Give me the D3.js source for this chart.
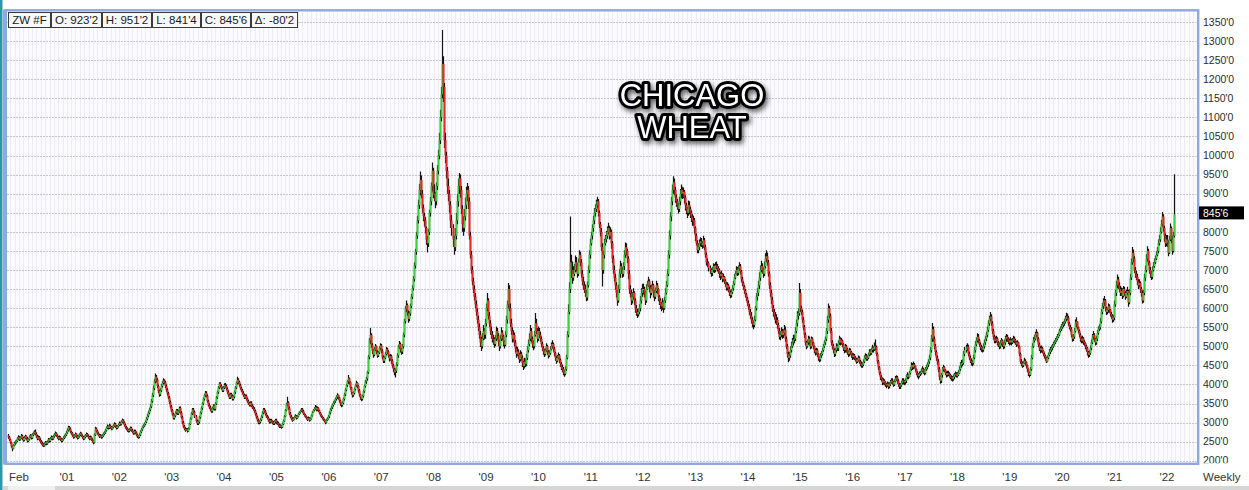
<!DOCTYPE html>
<html>
<head>
<meta charset="utf-8">
<script src="https://cdn.jsdelivr.net/npm/d3@7"></script>
<style>
  html, body { margin: 0; padding: 0; background: #ffffff; }
  svg { display: block; font-family: "Liberation Sans", Arial, sans-serif; }
</style>
</head>
<body>
<svg id="chart" width="1249" height="490"></svg>
<script>
// ---------------- DATA ----------------
const legendLabels = ["ZW #F", "O: 923'2", "H: 951'2", "L: 841'4", "C: 845'6", "\u0394: -80'2"];
const titleLines = ["CHICAGO", "WHEAT"];
const periodLabel = "Weekly";
const lastPriceLabel = "845'6";

const yTicks = [200,250,300,350,400,450,500,550,600,650,700,750,800,850,900,950,1000,1050,1100,1150,1200,1250,1300,1350];

const xTickDates = ["2000-02-01","2001-01-01","2002-01-01","2003-01-01","2004-01-01","2005-01-01","2006-01-01","2007-01-01","2008-01-01","2009-01-01","2010-01-01","2011-01-01","2012-01-01","2013-01-01","2014-01-01","2015-01-01","2016-01-01","2017-01-01","2018-01-01","2019-01-01","2020-01-01","2021-01-01","2022-01-01"];
const xTickLabels = ["Feb","'01","'02","'03","'04","'05","'06","'07","'08","'09","'10","'11","'12","'13","'14","'15","'16","'17","'18","'19","'20","'21","'22"];

// first weekly bar (Monday) of each block of weekly values
const yearStarts = ["1999-11-15","2000-01-03","2001-01-01","2002-01-07","2003-01-06","2004-01-05","2005-01-03","2006-01-02","2007-01-01","2008-01-07","2009-01-05","2010-01-04","2011-01-03","2012-01-02","2013-01-07","2014-01-06","2015-01-05","2016-01-04","2017-01-02","2018-01-01","2019-01-07","2020-01-06","2021-01-04","2022-01-03"];

const firstOpen = 266;

// weekly closes (cents/bushel), one row per block in yearStarts
const weeklyClose = [
  [262,256,248,238,232,240,246],
  [248,252,258,262,256,260,265,258,254,260,264,258,252,256,262,266,260,268,272,276,270,264,258,262,255,250,246,242,240,244,248,245,250,256,252,258,262,258,264,268,272,266,262,258,262,256,252,256,260,264,268,274],
  [280,288,284,276,272,266,262,266,270,264,260,264,268,272,266,262,258,262,266,270,266,262,258,262,256,252,248,268,284,278,272,268,264,266,262,266,270,274,280,286,290,286,292,288,284,288,292,296,290,286,290,294,298],
  [296,302,306,300,294,288,284,280,278,282,286,280,276,272,278,274,268,264,262,268,276,282,288,292,296,302,310,318,326,334,342,356,372,390,408,420,412,396,382,374,384,396,404,410,406,396,386,376,366,354,342,332],
  [322,312,318,326,332,324,330,338,326,314,300,290,284,280,282,278,284,296,310,324,334,328,316,304,298,302,314,326,338,350,362,372,378,370,356,346,340,334,330,338,344,336,350,366,380,392,402,396,390,384,392,398],
  [396,388,380,372,366,374,370,362,368,380,392,404,412,406,398,390,384,378,372,366,370,362,356,350,346,352,344,340,336,330,322,314,306,300,302,308,316,326,334,330,322,316,312,306,302,306,304,300,298,302,306,300],
  [298,294,290,292,288,296,304,316,332,348,352,338,324,316,310,306,310,314,318,312,316,322,326,330,334,330,324,320,316,312,308,312,306,310,318,326,332,336,340,334,338,332,326,320,316,312,308,304,300,306,310,316],
  [326,334,340,346,352,356,362,368,372,366,358,350,346,352,362,374,386,398,408,416,406,392,380,372,378,388,398,404,396,384,374,366,362,370,382,396,408,416,432,472,516,530,504,488,478,492,500,486,476,484,496,502],
  [488,472,462,470,480,492,486,476,468,474,462,450,440,432,436,452,476,498,506,492,486,500,530,566,598,608,588,572,586,606,630,652,676,712,748,790,830,870,910,936,900,862,842,830,810,780,770,800,850,880,920,960,900],
  [900,880,920,960,1000,1040,1100,1160,1240,1180,1040,1000,960,920,900,870,830,810,780,760,790,830,880,920,940,910,860,820,810,840,870,900,910,880,790,740,700,670,650,630,610,590,570,550,530,510,500,520,540,530,560,600],
  [620,580,560,540,530,520,516,506,520,540,528,512,500,520,536,526,512,504,530,570,610,650,600,560,540,520,530,510,494,480,486,476,466,480,470,456,448,460,454,470,490,506,520,540,520,506,500,530,560,540,520,540],
  [530,520,506,496,486,480,490,500,486,476,482,492,500,506,494,482,470,462,470,476,464,454,446,440,432,428,440,470,530,590,650,720,700,680,690,700,720,710,690,720,740,720,690,670,660,650,640,628,660,700,740,770],
  [790,810,830,850,860,870,880,850,820,800,760,700,740,770,780,790,800,810,790,800,770,730,700,680,660,640,620,650,690,710,700,690,710,740,760,750,730,690,650,640,620,630,640,620,600,590,584,590,600,620,640,650],
  [650,640,620,650,660,670,655,640,650,660,640,630,645,660,650,630,620,610,605,615,600,620,640,660,690,740,790,840,880,910,930,910,890,880,870,860,880,900,910,900,905,890,870,860,850,870,860,850,840,830,830,810,790],
  [770,752,760,770,775,770,765,778,760,740,720,718,705,700,692,700,710,700,712,710,705,700,690,684,690,676,682,672,664,654,660,650,640,634,642,652,664,680,690,700,692,704,710,696,676,666,656,646,636,626,614,604],
  [590,580,570,560,556,570,600,630,640,660,680,700,710,700,690,710,730,736,720,690,660,640,622,600,590,580,570,569,556,540,525,530,540,530,535,543,520,500,480,470,476,490,500,510,517,520,540,560,580,587,640,600],
  [590,570,550,530,510,500,510,520,510,500,520,510,500,490,484,490,480,470,466,476,480,490,500,510,520,540,570,600,580,540,510,500,490,480,490,500,495,510,520,510,515,505,495,490,500,492,485,480,490,485,478,472],
  [476,470,466,460,464,470,460,455,450,452,460,470,475,468,470,478,486,482,490,496,492,500,498,480,460,445,430,420,415,405,410,405,400,398,402,395,400,405,410,406,400,408,415,418,410,400,395,398,404,410,408,406],
  [410,420,425,420,430,440,450,445,452,448,440,430,425,422,428,430,435,440,436,430,440,445,452,460,470,490,520,545,520,500,485,470,460,440,420,410,425,440,445,438,430,425,430,428,425,420,418,415,420,425,428,425],
  [425,430,440,450,456,456,480,490,495,499,480,470,462,458,456,470,490,505,515,525,515,505,498,494,491,500,510,520,530,543,560,572,578,560,540,525,515,517,520,510,505,500,509,515,505,500,510,520,525,520,515,510,516],
  [510,515,520,516,512,505,510,500,480,460,455,450,456,462,458,450,440,430,425,440,470,500,515,520,530,535,520,505,495,490,495,488,480,475,470,460,470,478,485,490,495,500,505,510,515,520,525,530,540,545,550,556],
  [560,565,572,578,575,560,550,545,530,520,525,540,560,565,550,540,530,520,515,520,512,508,500,495,485,478,482,495,510,525,530,520,510,520,535,545,550,565,590,605,615,620,600,590,595,605,596,585,580,570,575,610],
  [640,660,675,660,650,640,645,632,650,640,630,640,645,615,640,680,720,745,730,700,690,682,670,660,666,650,640,620,640,680,700,730,750,720,700,690,682,700,710,720,730,740,750,770,780,800,820,840,810,790,770,780],
  [770,745,780,810,780,750,790,845.75]
];

// weekly highs
const weeklyHigh = [
  [270,265,258,250,240,243,250],
  [253,256,262,267,265,264,270,268,262,265,268,266,262,260,266,270,269,272,276,280,282,274,268,266,265,259,254,250,246,248,252,251,254,260,259,262,266,265,268,272,277,275,269,265,266,264,259,260,264,268,272,279],
  [285,292,291,287,279,275,269,270,274,272,267,268,272,276,274,269,265,266,270,274,273,269,265,266,264,259,255,272,289,287,281,275,271,270,268,270,274,278,284,290,295,293,297,295,291,292,296,301,299,293,294,298,303],
  [302,306,311,309,303,297,291,287,283,286,290,289,283,279,282,281,277,271,267,272,280,286,292,296,300,306,315,323,331,339,348,362,378,397,415,429,425,416,400,386,390,402,410,416,414,410,400,390,380,370,358,346],
  [336,326,322,330,336,336,334,342,342,330,318,304,294,288,286,286,288,300,314,328,338,338,332,320,308,306,318,330,342,354,366,376,383,382,374,360,350,344,338,342,348,348,354,370,384,396,406,406,400,394,396,403],
  [404,400,392,384,376,378,378,374,372,384,396,408,420,416,410,402,394,388,382,376,374,374,366,360,354,356,356,348,344,340,334,326,318,310,306,312,320,330,338,338,334,326,320,316,310,310,310,306,304,306,310,310],
  [304,302,298,296,294,300,308,320,336,352,368,356,342,328,320,314,314,318,322,320,320,326,330,334,338,338,334,326,322,318,314,316,314,314,322,330,336,340,346,344,342,340,334,328,322,318,314,310,306,310,314,320],
  [330,338,344,350,356,360,366,372,377,374,368,360,352,356,366,378,390,402,412,425,418,408,394,380,382,392,402,410,406,398,388,376,368,374,386,400,412,420,436,478,522,548,534,508,492,498,506,502,490,488,500,508],
  [506,492,476,474,486,498,496,490,478,480,478,466,454,444,442,458,482,504,514,510,496,506,536,572,606,620,612,594,592,612,638,660,684,720,756,800,842,884,926,958,948,910,872,850,838,814,790,808,858,892,930,982,968],
  [925,905,930,975,1015,1060,1120,1180,1329,1260,1190,1060,1010,970,940,910,880,845,820,790,810,850,900,940,954,950,920,870,840,860,890,918,928,920,890,800,750,710,680,660,640,620,600,580,560,540,525,535,556,548,572,612],
  [640,626,590,568,552,540,530,524,530,552,548,534,518,530,550,542,530,516,540,580,620,666,660,612,572,550,542,536,516,500,498,492,482,490,486,476,462,470,468,480,500,518,534,556,548,526,516,540,587,572,548,552],
  [548,538,526,512,500,492,496,508,504,490,490,500,510,516,510,498,486,474,478,484,480,468,458,452,446,438,448,478,540,610,668,840,740,722,710,716,738,734,718,730,752,748,728,700,682,670,662,648,670,712,752,782],
  [800,820,842,862,872,884,892,886,856,826,810,770,750,782,792,802,814,824,816,812,806,776,738,712,690,668,648,662,702,724,718,708,720,752,772,770,756,736,700,660,648,642,652,644,626,608,598,600,610,632,652,664],
  [664,656,646,662,672,682,676,660,662,672,664,646,654,672,666,652,634,626,616,626,620,630,652,672,702,752,804,852,892,924,946,940,918,898,886,876,892,912,924,918,916,910,896,876,866,882,880,866,856,846,842,836,814],
  [796,778,770,780,786,784,776,790,784,766,746,730,722,712,704,708,718,716,720,722,716,710,704,694,698,692,690,684,676,668,668,664,656,646,650,660,672,690,698,710,708,712,720,716,700,682,670,660,650,640,630,620],
  [610,598,590,576,568,580,606,640,652,672,694,712,724,718,706,722,744,752,746,726,696,668,648,630,608,598,590,584,576,562,548,540,550,546,545,556,552,526,506,486,486,500,512,522,530,530,550,570,592,600,666,650],
  [606,596,576,556,536,514,518,528,526,516,526,524,512,502,494,496,494,482,474,482,488,496,506,516,526,548,580,612,606,586,548,516,506,494,496,508,506,516,528,524,522,518,508,498,506,504,496,490,496,494,488,482],
  [482,480,474,470,470,476,474,464,460,458,466,476,482,480,476,484,492,492,496,504,500,510,518,502,484,464,448,434,424,418,416,414,408,404,408,406,406,412,416,416,410,414,422,424,422,414,404,404,410,416,416,412],
  [416,426,432,428,436,446,458,456,460,456,450,442,434,430,434,436,442,448,444,440,446,452,458,466,478,498,530,561,552,526,506,490,476,466,446,424,430,446,452,448,440,434,436,436,432,428,424,422,426,430,434,432],
  [432,438,448,458,464,466,488,498,504,508,504,486,476,468,464,478,498,514,524,534,532,520,510,504,500,508,518,528,538,552,568,580,590,584,566,546,530,526,528,524,514,510,516,522,518,510,518,528,532,530,524,520,524],
  [520,522,528,526,520,514,516,512,502,484,466,460,462,470,466,460,452,442,434,446,478,508,524,530,538,545,538,524,510,500,502,498,490,484,478,472,476,484,492,498,502,506,512,516,522,526,532,536,546,552,558,564],
  [566,572,580,588,586,580,564,556,550,530,532,548,570,576,566,552,544,534,526,528,524,516,510,504,498,488,490,502,518,532,540,534,522,528,542,552,558,574,598,614,626,632,624,604,602,612,610,598,590,584,582,620],
  [648,672,688,682,668,658,654,652,658,656,644,648,656,648,650,690,730,760,754,736,708,698,690,676,676,670,656,646,648,690,712,742,762,756,724,708,698,710,720,730,738,750,760,780,792,812,832,852,846,816,796,792],
  [792,778,790,822,814,790,800,951.25]
];

// weekly lows
const weeklyLow = [
  [258,252,244,234,225,230,238],
  [242,245,249,255,252,253,257,254,250,251,257,254,248,249,253,259,256,257,265,269,266,260,254,255,251,246,242,238,236,237,241,241,242,247,248,249,255,254,255,261,265,262,258,254,255,252,248,249,253,257,261,265],
  [271,277,280,272,268,262,258,259,263,260,256,257,261,265,262,258,254,255,259,263,262,258,254,255,252,248,243,245,265,274,268,264,260,261,258,259,263,267,271,277,283,282,283,284,280,281,285,289,286,282,283,287,291],
  [292,293,299,296,290,284,280,276,274,275,279,276,272,268,269,270,264,260,258,259,265,273,279,285,289,293,299,306,314,322,330,338,352,367,385,403,406,391,377,368,370,380,392,400,401,391,381,371,361,349,337,327],
  [318,308,308,314,322,320,320,326,322,310,296,286,280,276,278,274,276,282,294,308,320,324,312,300,294,294,298,310,322,334,346,358,368,366,352,342,336,330,326,326,334,332,332,346,362,376,388,392,386,380,380,388],
  [392,384,376,368,362,362,366,358,358,364,376,388,400,402,394,386,380,374,368,362,362,358,352,346,342,342,340,336,332,326,318,310,302,296,296,298,304,312,322,326,318,312,308,302,298,298,300,296,294,294,298,296],
  [294,290,286,286,284,286,294,302,314,330,344,334,320,312,306,302,304,308,312,308,310,314,320,324,328,326,320,316,312,308,304,306,302,304,308,316,326,330,334,330,330,328,322,316,312,308,304,300,296,298,304,308],
  [312,322,330,336,342,348,352,358,362,360,352,344,340,342,348,358,370,382,394,402,400,386,374,366,368,374,384,394,390,378,368,360,356,358,366,378,392,402,410,428,466,506,496,480,470,474,488,480,470,472,480,490],
  [482,466,456,456,466,476,480,470,460,462,454,444,432,424,418,430,448,470,494,484,478,480,494,524,560,590,580,562,566,580,600,624,646,670,704,740,782,822,860,896,888,850,828,814,796,766,746,760,792,840,870,906,888],
  [880,862,870,910,950,990,1030,1090,1150,1140,1020,980,940,900,880,850,810,790,760,740,750,780,820,866,900,890,846,800,790,800,830,860,880,860,780,730,690,660,640,620,600,580,560,540,520,498,488,494,516,518,520,552],
  [592,570,550,530,520,510,504,496,500,514,518,500,488,494,514,516,500,494,500,524,560,600,592,550,530,510,512,500,484,470,474,466,456,460,462,446,438,442,446,448,464,484,500,514,510,496,490,494,526,532,510,514],
  [522,512,498,488,478,472,476,486,478,468,472,478,490,494,486,474,462,454,458,466,456,446,438,432,424,420,424,436,466,524,584,640,680,664,672,684,694,696,680,684,720,710,680,660,648,640,630,618,620,654,692,730],
  [764,780,800,820,840,852,862,840,810,788,750,657,690,730,764,772,782,794,780,782,756,718,690,670,648,628,606,614,640,680,690,680,682,700,732,738,718,676,638,628,608,612,622,608,588,580,574,578,584,592,612,630],
  [636,628,608,614,648,656,642,626,634,646,628,618,624,640,638,618,608,598,592,596,588,596,614,636,656,684,730,780,828,870,900,896,876,866,858,848,852,870,888,886,888,874,856,846,836,842,846,836,826,816,816,796,776],
  [764,744,744,752,762,760,756,758,752,732,712,708,696,690,682,684,694,692,694,702,696,690,680,674,678,668,670,664,656,646,646,642,632,626,628,638,646,660,676,688,684,686,698,688,668,658,648,638,628,618,606,596],
  [582,572,560,550,545,550,566,594,620,632,650,672,694,690,680,684,704,720,712,682,650,630,610,590,578,570,560,556,546,532,518,516,524,520,522,528,512,492,470,458,462,470,484,496,502,508,514,534,552,570,580,590],
  [582,562,542,522,502,492,496,504,502,492,494,502,492,482,476,478,472,462,458,460,470,476,486,496,504,514,532,562,574,534,502,492,482,472,474,484,488,488,504,502,504,498,488,482,484,484,478,472,474,478,470,464],
  [466,464,460,454,456,460,454,448,444,444,448,456,466,462,462,466,474,476,478,484,484,488,490,474,454,438,424,412,408,398,400,398,394,390,394,388,390,396,402,400,394,396,406,410,402,394,388,388,394,400,400,398],
  [400,404,414,414,418,426,436,438,440,442,434,424,418,414,418,422,426,432,428,424,426,436,440,446,454,464,484,512,512,492,476,462,452,432,412,402,404,418,434,432,424,418,420,422,418,414,410,408,410,414,420,418],
  [418,422,428,436,444,448,452,474,484,488,474,464,456,450,448,452,466,484,500,510,508,498,490,486,484,486,494,504,514,524,538,554,566,554,532,518,508,508,510,502,498,492,494,502,498,492,494,504,512,512,506,502,504],
  [502,506,510,508,504,498,500,494,474,454,448,444,446,454,450,442,432,422,418,422,436,466,496,510,516,524,512,498,488,482,484,482,474,468,462,456,458,466,474,480,486,490,496,502,506,512,516,522,528,536,540,546],
  [550,554,560,566,568,554,544,538,524,512,514,520,536,550,544,534,524,512,508,508,504,500,492,486,476,470,472,478,490,506,518,512,502,504,514,530,540,544,560,584,598,606,592,582,584,588,588,578,572,562,564,568],
  [604,632,652,650,642,632,632,624,628,632,622,626,634,604,610,634,674,714,720,692,680,674,660,650,654,640,630,612,614,634,672,694,722,712,690,680,674,676,696,706,716,726,736,744,764,774,796,814,800,774,760,762],
  [760,736,742,776,770,740,746,785]
];

// ---------------- BUILD ----------------
const parse = d3.utcParse("%Y-%m-%d");
const candles = [];
let prevClose = firstOpen;
yearStarts.forEach((s, yi) => {
  const start = parse(s);
  weeklyClose[yi].forEach((c, k) => {
    const o = prevClose;
    const h = Math.max(weeklyHigh[yi][k], o, c);
    const l = Math.min(weeklyLow[yi][k], o, c);
    candles.push({ date: d3.utcDay.offset(start, 7 * k), o, h, l, c });
    prevClose = c;
  });
});
const last = candles[candles.length - 1];

const W = 1249, H = 490;
const plot = { left: 7, right: 1196.8, top: 11.4, bottom: 462.6 };

const x = d3.scaleUtc()
  .domain([parse("2001-01-01"), parse("2022-01-01")])
  .range([67, 1167]);
const y = d3.scaleLinear()
  .domain([250, 1350])
  .range([441.7, 22]);

const fmt = v => (Number.isInteger(v) ? v + "'0" : v);

const svg = d3.select("#chart");
const defs = svg.append("defs");
defs.append("clipPath").attr("id", "plotClip").append("rect")
  .attr("x", plot.left).attr("y", plot.top)
  .attr("width", plot.right - plot.left).attr("height", plot.bottom - plot.top);
defs.append("clipPath").attr("id", "axisClip").append("rect")
  .attr("x", 1199).attr("y", 0).attr("width", 50).attr("height", 463.2);
const flt = defs.append("filter").attr("id", "titleShadow")
  .attr("x", "-20%").attr("y", "-30%").attr("width", "140%").attr("height", "170%");
flt.append("feDropShadow").attr("dx", 2).attr("dy", 3).attr("stdDeviation", 2.4)
  .attr("flood-color", "#000").attr("flood-opacity", 0.6);

// page background
svg.append("rect").attr("width", W).attr("height", H).attr("fill", "#ffffff");

// plot background
svg.append("rect")
  .attr("x", plot.left).attr("y", plot.top)
  .attr("width", plot.right - plot.left).attr("height", plot.bottom - plot.top)
  .attr("fill", "#fbfbfe");

const gGrid = svg.append("g").attr("clip-path", "url(#plotClip)");
// monthly vertical dotted grid
const months = d3.utcMonth.range(x.invert(plot.left), x.invert(plot.right));
gGrid.selectAll("line.vg").data(months).join("line")
  .attr("class", "vg")
  .attr("x1", d => Math.round(x(d)) + 0.5).attr("x2", d => Math.round(x(d)) + 0.5)
  .attr("y1", plot.top).attr("y2", plot.bottom)
  .attr("stroke", "#dcdeed").attr("stroke-width", 1)
  .attr("stroke-dasharray", "1,1");
// horizontal dotted grid
gGrid.selectAll("line.hg").data(yTicks).join("line")
  .attr("class", "hg")
  .attr("x1", plot.left).attr("x2", plot.right)
  .attr("y1", d => Math.round(y(d)) + 0.5).attr("y2", d => Math.round(y(d)) + 0.5)
  .attr("stroke", "#c4c5d0").attr("stroke-width", 1)
  .attr("stroke-dasharray", "2,1");

// candles
const gC = svg.append("g").attr("clip-path", "url(#plotClip)");
const cg = gC.selectAll("g.c").data(candles).join("g").attr("class", "c");
cg.append("line")
  .attr("x1", d => Math.round(x(d.date)) + 0.5)
  .attr("x2", d => Math.round(x(d.date)) + 0.5)
  .attr("y1", d => y(d.h)).attr("y2", d => y(d.l))
  .attr("stroke", "#151515").attr("stroke-width", 1.2);
cg.append("rect")
  .attr("x", d => Math.round(x(d.date)) - 0.5)
  .attr("width", 2)
  .attr("y", d => y(Math.max(d.o, d.c)))
  .attr("height", d => Math.max(1, Math.abs(y(d.o) - y(d.c))))
  .attr("fill", d => d.c >= d.o ? "#3ccf3c" : "#ec2424");

// frame
svg.append("rect").attr("x", 0).attr("y", 0).attr("width", 2.5).attr("height", H).attr("fill", "#2b97ab");
svg.append("rect").attr("x", 3).attr("y", 9.5).attr("width", 4).attr("height", 455).attr("fill", "#93acdd");
svg.append("rect")
  .attr("x", 5.5).attr("y", 10.3)
  .attr("width", 1192.7).attr("height", 453.5)
  .attr("fill", "none").attr("stroke", "#8fa9dc").attr("stroke-width", 2.4);

// right axis labels
const gY = svg.append("g").attr("clip-path", "url(#axisClip)");
gY.selectAll("text").data(yTicks).join("text")
  .attr("x", 1203).attr("y", d => y(d))
  .attr("dy", "0.35em")
  .attr("font-size", 10.5).attr("fill", "#2b2b2b")
  .text(d => fmt(d));

// last price marker
const lpY = y(last.c);
svg.append("rect").attr("x", 1199).attr("y", lpY - 8).attr("width", 45).attr("height", 13).attr("fill", "#000");
svg.append("text").attr("x", 1203).attr("y", lpY - 1.5).attr("dy", "0.35em")
  .attr("font-size", 10.5).attr("fill", "#fff").text(lastPriceLabel);

// bottom axis labels
svg.append("g").selectAll("text").data(xTickDates).join("text")
  .attr("x", d => x(parse(d))).attr("y", 477).attr("dy", "0.35em")
  .attr("text-anchor", "middle").attr("font-size", 11.5).attr("fill", "#333")
  .text((d, i) => xTickLabels[i]);
svg.append("text").attr("x", 1203).attr("y", 477).attr("dy", "0.35em")
  .attr("font-size", 11.5).attr("fill", "#333").text(periodLabel);

// bottom strip
svg.append("rect").attr("x", 3).attr("y", 486).attr("width", W - 3).attr("height", 4).attr("fill", "#d6d6d6");
svg.append("rect").attr("x", 8).attr("y", 486).attr("width", 47).attr("height", 4).attr("fill", "#f0f0f0");

// legend cells
const gL = svg.append("g");
let lx = 8.5;
legendLabels.forEach(lbl => {
  const cell = gL.append("g");
  const r = cell.append("rect").attr("y", 12.5).attr("height", 15)
    .attr("fill", "#f8f8f8").attr("stroke", "#3a3a3a").attr("stroke-width", 1);
  const t = cell.append("text").attr("y", 20).attr("dy", "0.35em")
    .attr("font-size", 11.5).attr("fill", "#1a1a1a").text(lbl);
  const tw = t.node().getComputedTextLength();
  const w = Math.round(tw + 7);
  r.attr("x", lx).attr("width", w);
  t.attr("x", lx + (w - tw) / 2);
  lx += w + 1;
});

// title
const gT = svg.append("g").attr("filter", "url(#titleShadow)");
gT.selectAll("text").data(titleLines).join("text")
  .attr("x", 692).attr("y", (d, i) => 106 + i * 32)
  .attr("text-anchor", "middle")
  .attr("font-size", 31).attr("font-family", "'Liberation Sans', Arial, sans-serif")
  .attr("fill", "#ffffff").attr("stroke", "#000").attr("stroke-width", 6)
  .attr("stroke-linejoin", "round").attr("paint-order", "stroke")
  .text(d => d);
</script>
</body>
</html>
